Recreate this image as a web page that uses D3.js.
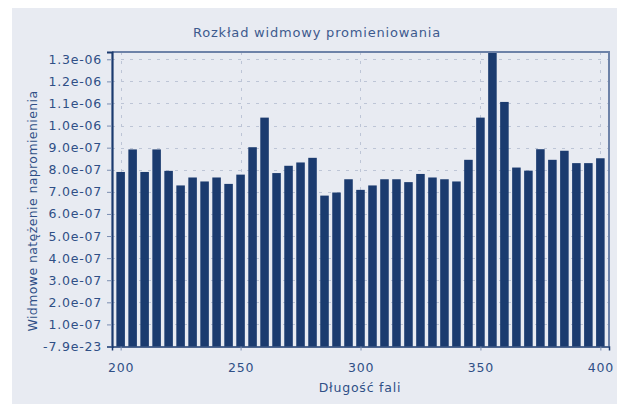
<!DOCTYPE html>
<html>
<head>
<meta charset="utf-8">
<script src="https://cdn.jsdelivr.net/npm/d3@7/dist/d3.min.js"></script>
<style>
  html, body { margin: 0; padding: 0; background: #ffffff; }
  svg { display: block; }
  text { font-family: "DejaVu Sans", Verdana, sans-serif; letter-spacing: 0.8px; }
</style>
</head>
<body>
<svg id="chart" width="617" height="404"></svg>
<script>
// Wavelengths (nm), one bar every 5 nm
const wavelengths = [
  200, 205, 210, 215, 220, 225, 230, 235, 240, 245,
  250, 255, 260, 265, 270, 275, 280, 285, 290, 295,
  300, 305, 310, 315, 320, 325, 330, 335, 340, 345,
  350, 355, 360, 365, 370, 375, 380, 385, 390, 395, 400
];
// Spectral irradiance for each wavelength
const irradiance = [
  7.90e-7, 8.92e-7, 7.90e-7, 8.92e-7, 7.95e-7, 7.29e-7, 7.65e-7, 7.47e-7, 7.65e-7, 7.36e-7,
  7.78e-7, 9.02e-7, 1.036e-6, 7.85e-7, 8.18e-7, 8.33e-7, 8.54e-7, 6.83e-7, 6.97e-7, 7.57e-7,
  7.09e-7, 7.29e-7, 7.57e-7, 7.57e-7, 7.44e-7, 7.81e-7, 7.65e-7, 7.57e-7, 7.47e-7, 8.45e-7,
  1.036e-6, 1.333e-6, 1.107e-6, 8.10e-7, 7.96e-7, 8.93e-7, 8.45e-7, 8.86e-7, 8.30e-7, 8.30e-7, 8.52e-7
];
// Axis ticks and their labels
const xTicks = [200, 250, 300, 350, 400];
const yTicks = [0, 1e-7, 2e-7, 3e-7, 4e-7, 5e-7, 6e-7, 7e-7, 8e-7, 9e-7, 1.0e-6, 1.1e-6, 1.2e-6, 1.3e-6];
const yTickLabels = [
  "-7.9e-23", "1.0e-07", "2.0e-07", "3.0e-07", "4.0e-07", "5.0e-07", "6.0e-07",
  "7.0e-07", "8.0e-07", "9.0e-07", "1.0e-06", "1.1e-06", "1.2e-06", "1.3e-06"
];
const chartTitle = "Rozkład widmowy promieniowania";
const xTitle = "Długość fali";
const yTitle = "Widmowe natężenie napromienienia";

const svg = d3.select("#chart");
const W = 617, H = 404;
const plot = { left: 112, right: 609, top: 52, bottom: 346.5 };
const navy = "#1b3b6f";
const textCol = "#2f4f86";

// Panel background
svg.append("rect").attr("x", 12).attr("y", 8).attr("width", W - 12).attr("height", H - 8)
  .attr("fill", "#e8ebf2");

const x = d3.scaleLinear().domain([196.4, 403.6]).range([plot.left, plot.right]);
const y = d3.scaleLinear().domain([0, d3.max(irradiance)]).range([plot.bottom, plot.top]);

// Dashed grid
const grid = svg.append("g").attr("stroke", "#bdc5d6").attr("stroke-width", 1)
  .attr("stroke-dasharray", "3,6");
grid.selectAll("line.h").data(yTicks.slice(1)).join("line").attr("class", "h")
  .attr("x1", plot.left).attr("x2", plot.right)
  .attr("y1", d => Math.round(y(d)) + 0.5).attr("y2", d => Math.round(y(d)) + 0.5);
grid.selectAll("line.v").data(xTicks).join("line").attr("class", "v")
  .attr("y1", plot.top).attr("y2", plot.bottom)
  .attr("x1", d => Math.round(x(d)) + 0.5).attr("x2", d => Math.round(x(d)) + 0.5);

// Bars
const halfW = 1.78;
svg.append("g").selectAll("rect").data(wavelengths).join("rect")
  .attr("x", (d) => x(d - halfW))
  .attr("width", (d) => x(d + halfW) - x(d - halfW))
  .attr("y", (d, i) => y(irradiance[i]))
  .attr("height", (d, i) => plot.bottom - y(irradiance[i]))
  .attr("fill", navy);

// Frame: top and right edges
svg.append("path")
  .attr("d", `M${plot.left},${plot.top}H${plot.right}V${plot.bottom}`)
  .attr("fill", "none").attr("stroke", "#6d82a8").attr("stroke-width", 2);

// Y axis
const yAxis = d3.axisLeft(y).tickValues(yTicks)
  .tickFormat((d, i) => yTickLabels[i]).tickSizeOuter(0).tickSize(5).tickPadding(5);
const gy = svg.append("g").attr("transform", `translate(${plot.left},0)`).call(yAxis);
gy.select(".domain").attr("stroke", navy).attr("stroke-width", 2.2);
gy.selectAll(".tick line").attr("stroke", "#7a8db0");
gy.selectAll(".tick text").attr("fill", textCol).attr("font-size", 12.5)
  .attr("font-family", "DejaVu Sans, Verdana, sans-serif");

// X axis
const xAxis = d3.axisBottom(x).tickValues(xTicks).tickFormat(d3.format("d"))
  .tickSizeOuter(0).tickSize(4).tickPadding(13);
const gx = svg.append("g").attr("transform", `translate(0,${plot.bottom})`).call(xAxis);
gx.select(".domain").attr("stroke", navy).attr("stroke-width", 1.5);
gx.selectAll(".tick line").attr("stroke", "#7a8db0");
gx.selectAll(".tick text").attr("fill", textCol).attr("font-size", 12.5)
  .attr("font-family", "DejaVu Sans, Verdana, sans-serif");

// Titles
svg.append("text").attr("x", 317).attr("y", 37).attr("text-anchor", "middle")
  .attr("fill", "#3d5a8e").attr("font-size", 13).text(chartTitle);
svg.append("text").attr("x", 360).attr("y", 392).attr("text-anchor", "middle")
  .attr("fill", textCol).attr("font-size", 12.5).text(xTitle);
svg.append("text").attr("transform", "translate(37,211) rotate(-90)")
  .attr("text-anchor", "middle").attr("fill", textCol).attr("font-size", 12.5)
  .style("letter-spacing", "0.4px").text(yTitle);
</script>
</body>
</html>
